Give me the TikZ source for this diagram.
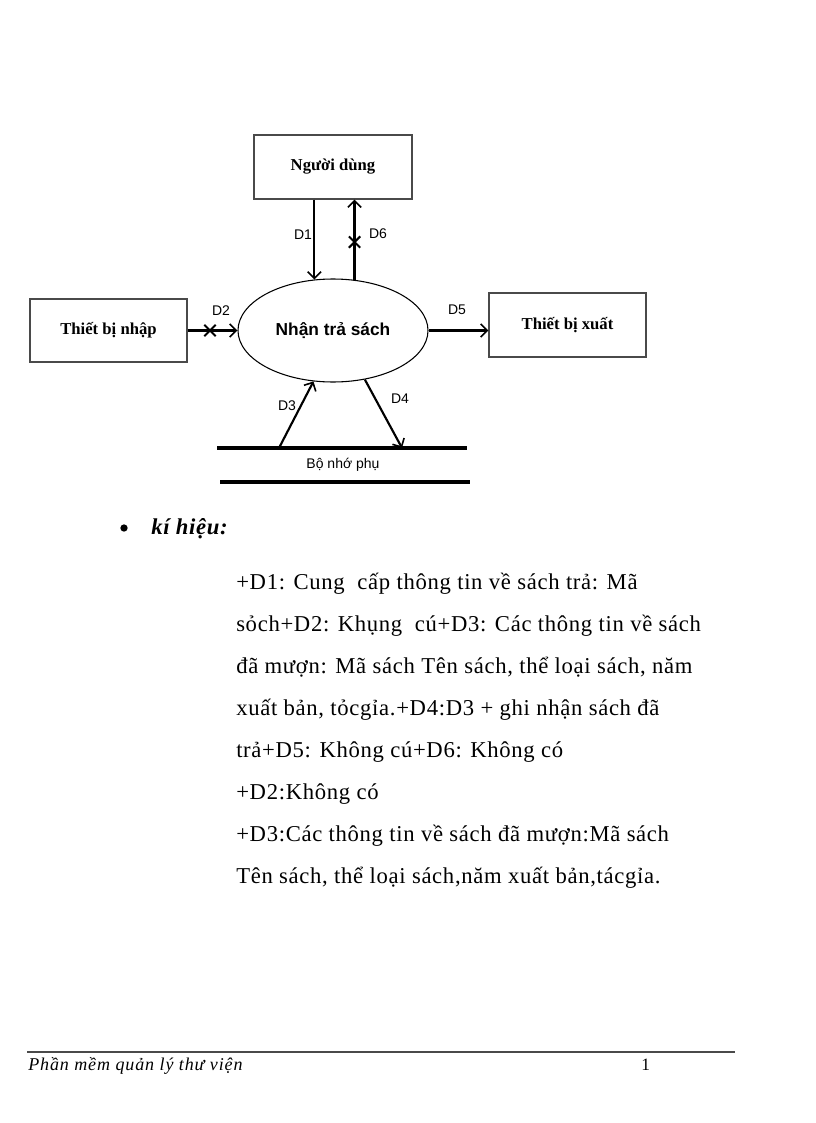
\documentclass[tikz,border=0pt]{standalone}
\usepackage{fontspec}
\setmainfont{Liberation Serif}
\setsansfont{Liberation Sans}
\newfontfamily\bodyfont[LetterSpace=3]{Liberation Serif}
\newfontfamily\footfont[LetterSpace=5]{Liberation Serif}
\usepackage{tikz}
\usetikzlibrary{arrows.meta,positioning,shapes.geometric,shapes.misc}
\definecolor{boxgray}{HTML}{4A4A4A}

\begin{document}
\begin{tikzpicture}[
    x=0.75pt, y=-0.75pt,
    entity/.style={draw=boxgray, line width=0.8pt, align=center, inner sep=0pt, font=\rmfamily\bfseries\fontsize{12.5}{14}\selectfont},
    process/.style={draw=black, ellipse, line width=0.8pt, minimum width=142.5pt, minimum height=77.25pt, inner sep=0pt, font=\sffamily\bfseries\fontsize{13}{15}\selectfont},
    flow/.style={-{Straight Barb[length=5pt,width=10pt,line width=1.2pt]}, line width=1.6pt},
    flowlabel/.style={font=\sffamily\fontsize{10.5}{12}\selectfont, inner sep=0pt},
    blocked/.style={cross out, draw, line width=1.5pt, minimum size=7pt, inner sep=0pt, sloped},
    storeline/.style={line width=2.8pt},
    bodyline/.style={anchor=base west, inner sep=0pt, font=\bodyfont\fontsize{17}{20}\selectfont}
]
\useasboundingbox (0,0) rectangle (816,1123);

\node[entity, minimum width=118.5pt, minimum height=48pt] (user) at (333,167) {Người dùng};
\node[process] (recv) at (333,330.5) {Nhận trả sách};
\node[entity, minimum width=117.75pt, minimum height=47.25pt] (input) at (108.5,330.5) {Thiết bị nhập};
\node[entity, minimum width=117.75pt, minimum height=48pt] (output) at (567.5,325) {Thiết bị xuất};

\coordinate (storeTL) at (217,448);
\coordinate (storeTR) at (467,448);
\coordinate (storeBL) at (220,482);
\coordinate (storeBR) at (470,482);
\coordinate (d3start) at (279,448);
\coordinate (d4end) at (402,448);
\node[flowlabel, font=\sffamily\fontsize{10.5}{12}\selectfont] (store) at (343,465) {Bộ nhớ phụ};
\draw[storeline] (storeTL) -- (storeTR);
\draw[storeline] (storeBL) -- (storeBR);

\draw[flow] (recv.110.6 |- user.south) -- (recv.110.6);
\draw[flow] (recv.67.3) -- node[blocked, pos=0.47] {} (recv.67.3 |- user.south);
\draw[flow] (input.east) -- node[blocked, pos=0.45] {} (recv.west);
\draw[flow] (recv.east) -- (recv.east -| output.west);
\draw[flow] (d3start) -- (recv.249);
\draw[flow] (recv.303) -- (d4end);

\node[flowlabel] (d1) at (303,235) {D1};
\node[flowlabel] (d6) at (378,234) {D6};
\node[flowlabel] (d2) at (221,311) {D2};
\node[flowlabel] (d5) at (457,310) {D5};
\node[flowlabel] (d3) at (287,406) {D3};
\node[flowlabel] (d4) at (400,399) {D4};

\node[circle, fill=black, inner sep=0pt, minimum size=5.5pt] (bullet) at (124,528) {};
\node[bodyline, font=\bodyfont\bfseries\itshape\fontsize{17}{20}\selectfont] (legend) at (151,534) {kí hiệu:};

\node[bodyline] (l1) at (236,589) {+D1: Cung\ \ cấp thông tin về sách trả: Mã};
\node[bodyline] (l2) at (236,631) {sỏch+D2: Khụng\ \ cú+D3: Các thông tin về sách};
\node[bodyline] (l3) at (236,673) {đã mượn: Mã sách Tên sách, thể loại sách, năm};
\node[bodyline] (l4) at (236,715) {xuất bản, tỏcgỉa.+D4:D3 + ghi nhận sách đã};
\node[bodyline] (l5) at (236,757) {trả+D5: Không cú+D6: Không có};
\node[bodyline] (l6) at (236,799) {+D2:Không có};
\node[bodyline] (l7) at (236,841) {+D3:Các thông tin về sách đã mượn:Mã sách};
\node[bodyline] (l8) at (236,883) {Tên sách, thể loại sách,năm xuất bản,tácgỉa.};

\coordinate (ruleL) at (27,1052);
\coordinate (ruleR) at (735,1052);
\draw[line width=0.9pt, boxgray] (ruleL) -- (ruleR);
\node[bodyline, font=\footfont\itshape\fontsize{13.5}{16}\selectfont] (footer) at (28,1070) {Phần mềm quản lý thư viện};
\node[bodyline, font=\rmfamily\fontsize{13}{15}\selectfont] (page) at (641,1070) {1};
\end{tikzpicture}
\end{document}
